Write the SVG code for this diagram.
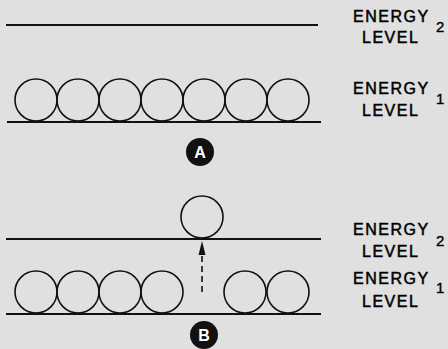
<svg xmlns="http://www.w3.org/2000/svg" width="448" height="349" viewBox="0 0 448 349">
<defs>
<style>
.lvl{stroke:#111;stroke-width:2;fill:none}
.ball{stroke:#111;stroke-width:1.6;fill:none}
.lbl{font-family:"Liberation Sans",Arial,sans-serif;font-size:16px;fill:#000;stroke:#000;stroke-width:0.5px;letter-spacing:1.5px}
.num{font-family:"Liberation Sans",Arial,sans-serif;font-size:15px;fill:#000;stroke:#000;stroke-width:0.4px}
.tag{font-family:"Liberation Sans",Arial,sans-serif;font-size:16px;font-weight:bold;fill:#fff;text-anchor:middle}
</style>
</defs>
<rect width="448" height="349" fill="#e0e0e0"/>
<g id="panelA">
<line class="lvl" x1="6" y1="25" x2="318" y2="25"/>
<line class="lvl" x1="7" y1="122" x2="321" y2="122"/>
<g id="ballsA">
<circle class="ball" cx="36" cy="100" r="21"/>
<circle class="ball" cx="78" cy="100" r="21"/>
<circle class="ball" cx="120" cy="100" r="21"/>
<circle class="ball" cx="162" cy="100" r="21"/>
<circle class="ball" cx="204" cy="100" r="21"/>
<circle class="ball" cx="246" cy="100" r="21"/>
<circle class="ball" cx="288" cy="100" r="21"/>
</g>
<g id="tagA"><circle cx="200" cy="152" r="14" fill="#111"/><text class="tag" x="200" y="158">A</text></g>
<g id="labelA2"><text class="lbl" x="353" y="22">ENERGY</text><text class="lbl" x="362" y="43">LEVEL</text><text class="num" x="436" y="32">2</text></g>
<g id="labelA1"><text class="lbl" x="353" y="94">ENERGY</text><text class="lbl" x="362" y="116">LEVEL</text><text class="num" x="436" y="104">1</text></g>
</g>
<g id="panelB">
<line class="lvl" x1="6" y1="239" x2="321" y2="239"/>
<line class="lvl" x1="6" y1="314" x2="321" y2="314"/>
<circle id="excited" class="ball" cx="202" cy="217" r="21"/>
<g id="ballsB">
<circle class="ball" cx="36" cy="292" r="21"/>
<circle class="ball" cx="78" cy="292" r="21"/>
<circle class="ball" cx="120" cy="292" r="21"/>
<circle class="ball" cx="162" cy="292" r="21"/>
<circle class="ball" cx="245" cy="292" r="21"/>
<circle class="ball" cx="288" cy="292" r="21"/>
</g>
<g id="connectors">
<line x1="202" y1="292" x2="202" y2="252" stroke="#111" stroke-width="1.6" stroke-dasharray="6,4"/>
<polygon points="202,241 205.5,255 198.5,255" fill="#111"/>
</g>
<g id="tagB"><circle cx="204" cy="335" r="14" fill="#111"/><text class="tag" x="204" y="341">B</text></g>
<g id="labelB2"><text class="lbl" x="353" y="235">ENERGY</text><text class="lbl" x="362" y="257">LEVEL</text><text class="num" x="436" y="246">2</text></g>
<g id="labelB1"><text class="lbl" x="353" y="284">ENERGY</text><text class="lbl" x="362" y="307">LEVEL</text><text class="num" x="436" y="293">1</text></g>
</g>
</svg>
